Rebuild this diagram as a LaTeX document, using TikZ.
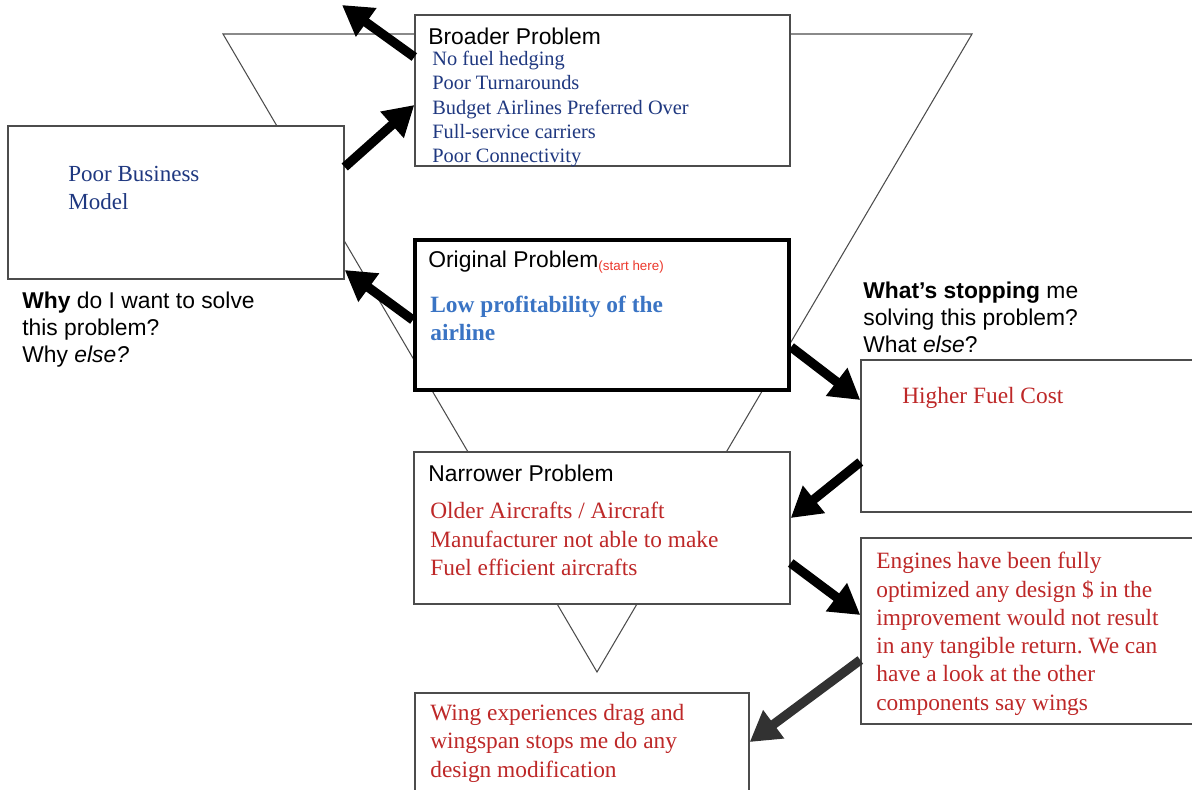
\documentclass[tikz,border=0pt]{standalone}
\usepackage{fontspec}
\setmainfont{Liberation Serif}
\newfontfamily\arialf{Liberation Sans}
\usepackage{xcolor}
\usetikzlibrary{arrows.meta, positioning, calc, fit}
\frenchspacing

\definecolor{listblue}{RGB}{31,56,128}
\definecolor{keyblue}{RGB}{58,116,196}
\definecolor{causered}{RGB}{190,40,40}
\definecolor{startred}{RGB}{236,56,44}
\definecolor{darkarrow}{RGB}{50,50,50}

\tikzset{
  box/.style={draw=black!70, line width=0.8pt, fill=white, inner sep=0pt},
  bigarrow/.style={line width=5.3pt, -{Triangle[length=17pt,width=19pt]}},
  hd/.style={anchor=north west, inner sep=0pt, align=left, font=\arialf\fontsize{13}{15.3}\selectfont},
  cause/.style={anchor=north west, inner sep=0pt, align=left, text=causered, font=\fontsize{13.3}{16.1}\selectfont},
}

\begin{document}
\begin{tikzpicture}[x=0.02cm, y=-0.02cm]
\useasboundingbox (0,0) rectangle (1192,789);
% funnel behind the boxes
\draw[black!70, line width=0.6pt] (223,34) -- (972,34) -- (597,672) -- cycle;

% boxes
\node[box, fit={(415,15) (790,166)}] (broader) {};
\node[box, fit={(8,126) (344,279)}] (poorbiz) {};
\node[box, draw=black, line width=2.4pt, fit={(415,240) (789,390)}] (orig) {};
\node[box, fit={(861,360) (1200,512)}] (fuel) {};
\node[box, fit={(414,452) (790,604)}] (narrow) {};
\node[box, fit={(861,538) (1200,724)}] (engines) {};
\node[box, fit={(415,693) (749,800)}] (wing) {};

% texts
\node[hd] (broaderhd) at (428,28) {Broader Problem};
\node[anchor=north west, inner sep=0pt, align=left, text=listblue, font=\fontsize{11.6}{13.8}\selectfont] (broaderlist) at (432,51)
  {No fuel hedging\\Poor Turnarounds\\Budget Airlines Preferred Over\\Full-service carriers\\Poor Connectivity};
\node[anchor=north west, inner sep=0pt, align=left, text=listblue, font=\fontsize{13.1}{16}\selectfont] (poorbiztxt) at (68,166)
  {Poor Business\\Model};
\node[hd] (orighd) at (428,251) {Original Problem{\color{startred}\fontsize{7.6}{9}\selectfont\raisebox{-1.5pt}{(start here)}}};
\node[anchor=north west, inner sep=0pt, align=left, text=keyblue, font=\bfseries\fontsize{13.3}{15.9}\selectfont] (origtxt) at (430,296)
  {Low profitability of the\\airline};
\node[hd] (why) at (22,292) {\textbf{Why} do I want to solve\\this problem?\\Why \textit{else?}};
\node[hd] (stop) at (863,282) {\textbf{What’s stopping} me\\solving this problem?\\What \textit{else}?};
\node[cause] (fueltxt) at (902,387) {Higher Fuel Cost};
\node[hd] (narrowhd) at (428,465) {Narrower Problem};
\node[cause] (narrowtxt) at (430,502) {Older Aircrafts / Aircraft\\Manufacturer not able to make\\Fuel efficient aircrafts};
\node[cause] (enginetxt) at (876,552) {Engines have been fully\\optimized any design \$ in the\\improvement would not result\\in any tangible return. We can\\have a look at the other\\components say wings};
\node[cause] (wingtxt) at (430,704) {Wing experiences drag and\\wingspan stops me do any\\design modification};

% arrows
\coordinate (upout) at (342,5);
\draw[bigarrow] (broader.west |- 0,57) -- (upout);
\draw[bigarrow] (poorbiz.east |- 0,167) -- (broader.west |- 0,105);
\draw[bigarrow] (orig.west |- 0,320) -- (poorbiz.east |- 0,270);
\draw[bigarrow] (orig.east |- 0,347) -- (fuel.west |- 0,400);
\draw[bigarrow] (fuel.west |- 0,462) -- (narrow.east |- 0,518);
\draw[bigarrow] (narrow.east |- 0,563) -- (engines.west |- 0,615);
\draw[bigarrow, darkarrow] (engines.west |- 0,660) -- (wing.east |- 0,742);
\end{tikzpicture}
\end{document}
